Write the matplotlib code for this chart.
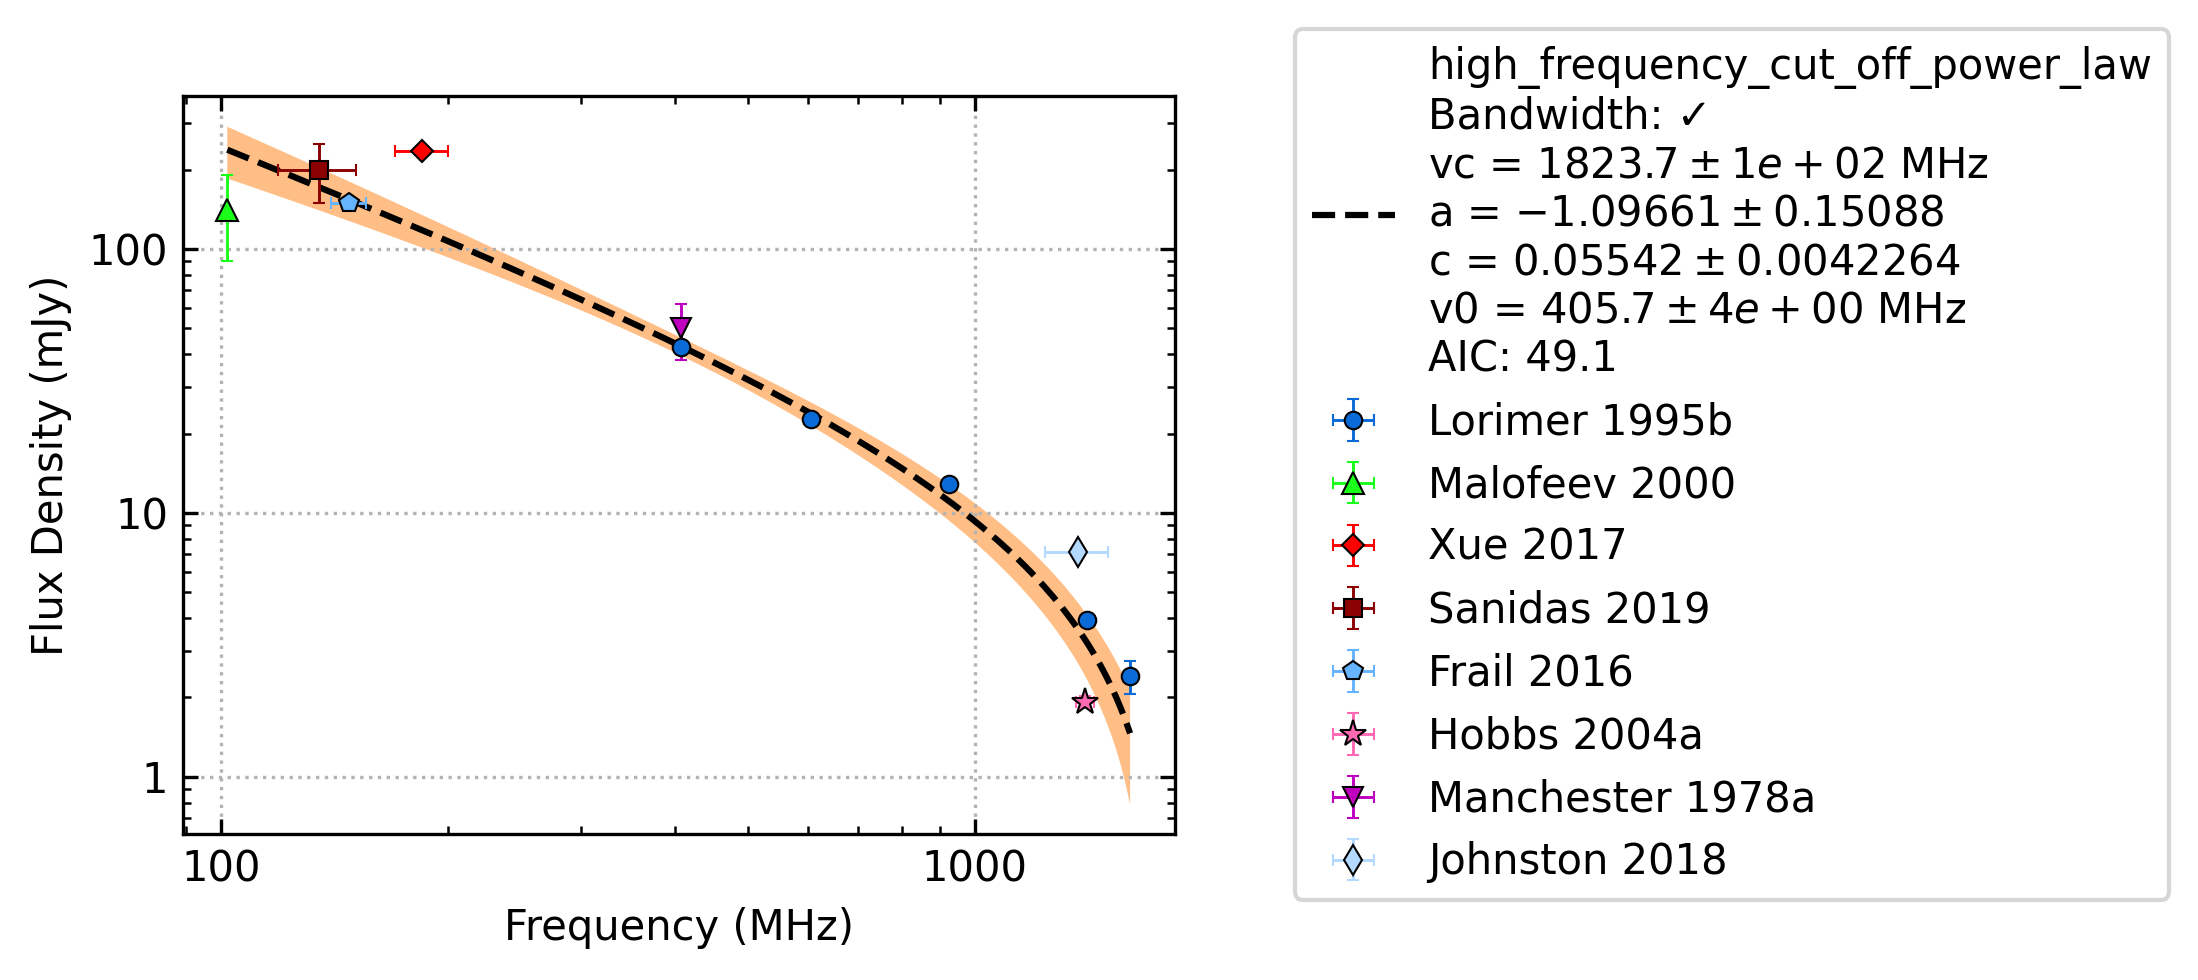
import numpy as np
import matplotlib
matplotlib.use("Agg")
import matplotlib.pyplot as plt

plt.rcParams['font.family'] = ['DejaVu Sans']
plt.rcParams['font.size'] = 10

# measured flux densities (MHz, mJy)
refs = ["Lorimer 1995b", "Malofeev 2000", "Xue 2017", "Sanidas 2019",
        "Frail 2016", "Hobbs 2004a", "Manchester 1978a", "Johnston 2018"]
freqs = [[408, 606, 925, 1408, 1606], [102], [185], [135], [148], [1400], [408], [1369]]
fluxes = [[42.6, 22.7, 12.9, 3.94, 2.41], [140], [235], [200], [150], [1.92], [50], [7.1]]
freq_errs = [[0, 0, 0, 0, 0], [0], [15], [16], [8], [40], [0], [130]]
flux_errs = [[1.5, 0.8, 0.5, 0.2, 0.35], [50], [10], [50], [8], [0.1], [12], [0.3]]
markers = ['o', '^', 'D', 's', 'p', '*', 'v', 'd']
msizes = [4.2, 5.2, 3.6, 4.4, 4.8, 6.5, 5, 5]
colors = ['#0a6bd6', '#1aff1a', '#ff0000', '#8b0000', '#66b3ff', '#ff69b4', '#bf00bf', '#b3d9ff']

# fitted model parameters (from legend)
vc, vc_err = 1823.7, 100.0
a, a_err = -1.09661, 0.15088
c, c_err = 0.05542, 0.0042264
v0, v0_err = 405.7, 4.0
aic = 49.1


def hfco_power_law(v):
    return 1000 * c * (v / v0) ** a * (1 - v / vc)


def hfco_sigma(v):
    s = hfco_power_law(v)
    d_c = s / c
    d_a = s * np.log(v / v0)
    d_vc = 1000 * c * (v / v0) ** a * v / vc ** 2
    d_v0 = s * (-a / v0)
    return np.sqrt((d_c * c_err) ** 2 + (d_a * a_err) ** 2 +
                   (d_vc * vc_err) ** 2 + (d_v0 * v0_err) ** 2)


all_freq = np.concatenate([np.array(f, dtype=float) for f in freqs])
fit_freq = np.logspace(np.log10(all_freq.min()), np.log10(all_freq.max()), 200)
fit_flux = hfco_power_law(fit_freq)
fit_err = hfco_sigma(fit_freq)

fig = plt.figure(figsize=(2198 / 300, 980 / 300), dpi=300)
ax = fig.add_axes([183 / 2198, 1 - 834 / 980, 992 / 2198, 738 / 980])

label = ("high_frequency_cut_off_power_law\nBandwidth: \u2713\n"
         rf"vc = ${vc}\pm 1e+02$ MHz" "\n"
         rf"a = ${a}\pm {a_err}$" "\n"
         rf"c = ${c}\pm {c_err}$" "\n"
         rf"v0 = ${v0}\pm 4e+00$ MHz" "\n"
         f"AIC: {aic}")

ax.fill_between(fit_freq, fit_flux - fit_err, fit_flux + fit_err,
                facecolor='C1', alpha=0.5, linewidth=0, zorder=1)
ax.plot(fit_freq, fit_flux, 'k--', lw=1.5, label=label, zorder=2)

for ref, f, s, fe, se, m, ms, col in zip(refs, freqs, fluxes, freq_errs, flux_errs,
                                          markers, msizes, colors):
    ax.errorbar(f, s, xerr=fe, yerr=se, linestyle='None', marker=m, color=col,
                mec='k', markeredgewidth=0.5, markersize=ms, elinewidth=0.7,
                capsize=1.5, capthick=0.7, label=ref, zorder=3)

ax.set_xscale('log')
ax.set_yscale('log')
ax.set_xlim(89.1, 1842)
ax.set_ylim(0.608, 380)
ax.set_xticks([100, 1000])
ax.set_xticklabels(['100', '1000'])
ax.set_yticks([1, 10, 100])
ax.set_yticklabels(['1', '10', '100'])
ax.tick_params(which='both', direction='in', top=True, right=True)
ax.tick_params(which='major', length=3.5, width=0.8)
ax.tick_params(which='minor', length=2, width=0.6)
ax.grid(True, which='major', linestyle=':', color='0.7', linewidth=0.8)
for sp in ax.spines.values():
    sp.set_linewidth(0.8)
ax.set_xlabel('Frequency (MHz)')
ax.set_ylabel('Flux Density (mJy)')

fig.legend(*ax.get_legend_handles_labels(), loc='center left', borderaxespad=0,
           bbox_to_anchor=(1295 / 2198, 1 - 464.5 / 980), fontsize=10)

fig.savefig('out.png', dpi=300)
